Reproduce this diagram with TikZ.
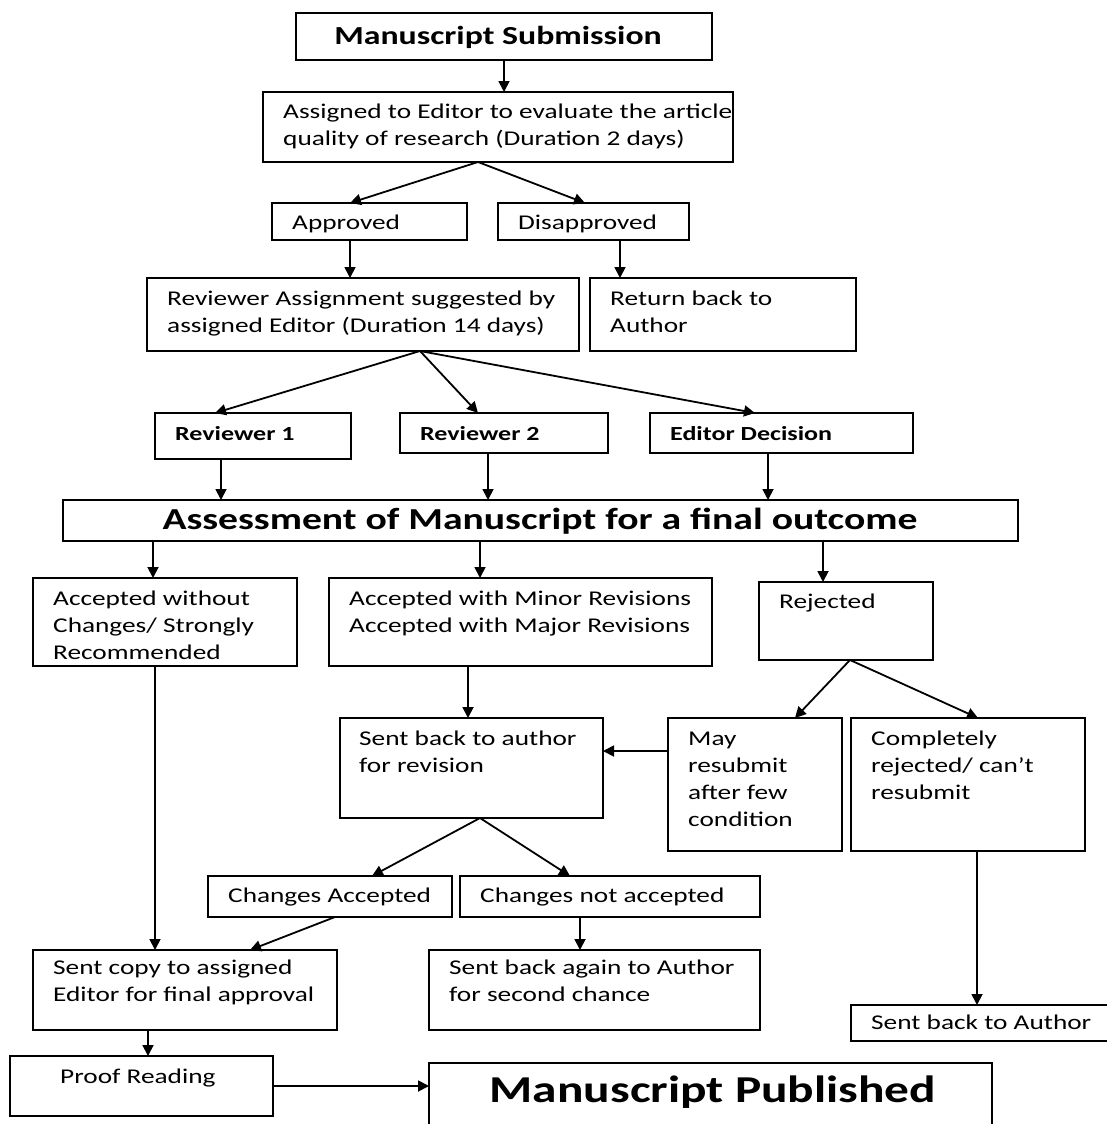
\documentclass[tikz,border=0pt]{standalone}
\usepackage{fontspec}
\setmainfont{Carlito}[FakeStretch=1.30]
\usetikzlibrary{arrows.meta}
\begin{document}
\begin{tikzpicture}[x=1pt,y=-1pt,
  box/.style={draw=black, line width=2pt, inner sep=0pt, outer sep=0pt},
  txt/.style={inner sep=0pt, align=left, font=\fontsize{21}{27}\selectfont},
  btxt/.style={inner sep=0pt, font=\fontsize{20}{27}\selectfont\bfseries},
  arr/.style={draw=black, line width=1.8pt, -{Triangle[length=11pt,width=11pt]}}]
\useasboundingbox[fill=white] (0,0) rectangle (1107,1124);
\newcommand\bx[5]{\node[box, minimum width={(#4-#2)*1pt}, minimum height={(#5-#3)*1pt}] (#1) at ({(#2+#4)/2},{(#3+#5)/2}) {};}
% boxes
\bx{sub}{296}{13}{712}{60}
\bx{ass}{263}{92}{733}{162}
\bx{app}{272}{203}{467}{240}
\bx{dis}{498}{203}{689}{240}
\bx{rev}{147}{278}{579}{351}
\bx{ret}{590}{278}{856}{351}
\bx{r1}{155}{413}{351}{459}
\bx{r2}{400}{413}{608}{453}
\bx{ed}{650}{413}{913}{453}
\bx{asm}{63}{500}{1018}{541}
\bx{acc}{33}{578}{297}{666}
\bx{min}{329}{578}{712}{666}
\bx{rej}{759}{582}{933}{660}
\bx{sba}{340}{718}{603}{818}
\bx{may}{668}{718}{842}{851}
\bx{com}{851}{718}{1085}{851}
\bx{cha}{208}{876}{452}{917}
\bx{chn}{460}{876}{760}{917}
\bx{scp}{33}{950}{337}{1030}
\bx{sbg}{429}{950}{760}{1030}
\bx{sbt}{851}{1005}{1110}{1041}
\bx{prf}{10}{1056}{273}{1116}
\bx{pub}{429}{1063}{992}{1130}
% texts
\node[inner sep=0pt, font=\fontsize{26}{27}\selectfont\bfseries] (subt) at (498,37) {Manuscript Submission};
\node[txt, anchor=north west] (asst) at (283,100) {\rule{0pt}{18pt}Assigned to Editor to evaluate the article\\quality of research (Duration 2 days)};
\node[txt, anchor=north west] (appt) at (292,211) {\rule{0pt}{18pt}Approved};
\node[txt, anchor=north west] (dist) at (518,211) {\rule{0pt}{18pt}Disapproved};
\node[txt, anchor=north west] (revt) at (167,287) {\rule{0pt}{18pt}Reviewer Assignment suggested by\\assigned Editor (Duration 14 days)};
\node[txt, anchor=north west] (rett) at (610,287) {\rule{0pt}{18pt}Return back to\\Author};
\node[btxt, anchor=west] (r1t) at (175,434) {Reviewer 1};
\node[btxt, anchor=west] (r2t) at (420,434) {Reviewer 2};
\node[btxt, anchor=west] (edt) at (670,434) {Editor Decision};
\node[inner sep=0pt, font=\fontsize{30.5}{27}\selectfont\bfseries] (asmt) at (540,521) {Assessment of Manuscript for a final outcome};
\node[txt, anchor=north west] (acct) at (53,587) {\rule{0pt}{18pt}Accepted without\\Changes/ Strongly\\Recommended};
\node[txt, anchor=north west] (mint) at (349,587) {\rule{0pt}{18pt}Accepted with Minor Revisions\\Accepted with Major Revisions};
\node[txt, anchor=north west] (rejt) at (779,590) {\rule{0pt}{18pt}Rejected};
\node[txt, anchor=north west] (sbat) at (359,727) {\rule{0pt}{18pt}Sent back to author\\for revision};
\node[txt, anchor=north west] (mayt) at (688,727) {\rule{0pt}{18pt}May\\resubmit\\after few\\condition};
\node[txt, anchor=north west] (comt) at (871,727) {\rule{0pt}{18pt}Completely\\rejected/ can’t\\resubmit};
\node[txt, anchor=north west] (chat) at (228,884) {\rule{0pt}{18pt}Changes Accepted};
\node[txt, anchor=north west] (chnt) at (480,884) {\rule{0pt}{18pt}Changes not accepted};
\node[txt, anchor=north west] (scpt) at (53,956) {\rule{0pt}{18pt}Sent copy to assigned\\Editor for final approval};
\node[txt, anchor=north west] (sbgt) at (449,956) {\rule{0pt}{18pt}Sent back again to Author\\for second chance};
\node[txt, anchor=north west] (sbtt) at (871,1011) {\rule{0pt}{18pt}Sent back to Author};
\node[txt, anchor=north west] (prft) at (60,1065) {\rule{0pt}{18pt}Proof Reading};
\node[inner sep=0pt, font=\fontsize{38}{40}\selectfont\bfseries] (pubt) at (713,1092) {Manuscript Published};
% connectors
\coordinate (assb) at (478,0 |- ass.south);
\coordinate (revb) at (420,0 |- rev.south);
\coordinate (rejb) at (850,0 |- rej.south);
\coordinate (sbab) at (480,0 |- sba.south);
\draw[arr] (sub.south) -- (sub.south |- ass.north);
\draw[arr] (assb) -- (350,0 |- app.north);
\draw[arr] (assb) -- (585,0 |- dis.north);
\draw[arr] (350,0 |- app.south) -- (350,0 |- rev.north);
\draw[arr] (620,0 |- dis.south) -- (620,0 |- ret.north);
\draw[arr] (revb) -- (215,0 |- r1.north);
\draw[arr] (revb) -- (478,0 |- r2.north);
\draw[arr] (revb) -- (755,0 |- ed.north);
\draw[arr] (221,0 |- r1.south) -- (221,0 |- asm.north);
\draw[arr] (488,0 |- r2.south) -- (488,0 |- asm.north);
\draw[arr] (768,0 |- ed.south) -- (768,0 |- asm.north);
\draw[arr] (153,0 |- asm.south) -- (153,0 |- acc.north);
\draw[arr] (480,0 |- asm.south) -- (480,0 |- min.north);
\draw[arr] (823,0 |- asm.south) -- (823,0 |- rej.north);
\draw[arr] (155,0 |- acc.south) -- (155,0 |- scp.north);
\draw[arr] (468,0 |- min.south) -- (468,0 |- sba.north);
\draw[arr] (rejb) -- (795,0 |- may.north);
\draw[arr] (rejb) -- (978,0 |- com.north);
\draw[arr] (may.west |- 0,751) -- (sba.east |- 0,751);
\draw[arr] (sbab) -- (372,0 |- cha.north);
\draw[arr] (sbab) -- (570,0 |- chn.north);
\draw[arr] (335,0 |- cha.south) -- (250,0 |- scp.north);
\draw[arr] (580,0 |- chn.south) -- (580,0 |- sbg.north);
\draw[arr] (977,0 |- com.south) -- (977,0 |- sbt.north);
\draw[arr] (148,0 |- scp.south) -- (148,0 |- prf.north);
\draw[arr] (prf.east |- 0,1086) -- (pub.west |- 0,1086);
\end{tikzpicture}
\end{document}
